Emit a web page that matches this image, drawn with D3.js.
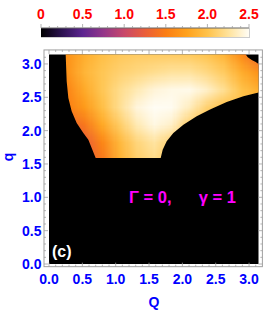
<!DOCTYPE html>
<html>
<head>
<meta charset="utf-8">
<script src="https://cdn.jsdelivr.net/npm/d3@7"></script>
<style>
    html, body { margin: 0; padding: 0; background: #fff; }
    #chart { width: 265px; height: 313px; }
    text { font-family: 'Liberation Sans', Arial, sans-serif; font-weight: bold; }
</style>
</head>
<body>
<div id="chart"></div>
<script>
//Colores fijos
const COLOR_TICKS = '#0000ff',
COLOR_BAR_TICKS = '#ff0000',
COLOR_NOTE = '#ff00ff',
COLOR_FRAME = '#a0a0a0';

//Malla de datos (Q columnas, q filas de arriba a abajo)
const Q_GRID = [0, 0.262, 0.524, 0.785, 1.047, 1.309, 1.571, 1.833, 2.094, 2.356, 2.618, 2.880, 3.142];
const q_GRID = [3.142, 2.880, 2.618, 2.356, 2.094, 1.833, 1.571];
const GRID_STEP = 0.262;

const row_3142 = [1.6, 1.65, 1.85, 1.98, 2.05, 2.08, 2.08, 2.08, 2.07, 2.02, 1.9, 1.6, 1.3];
const row_2880 = [1.55, 1.65, 1.9, 2.03, 2.12, 2.17, 2.22, 2.26, 2.26, 2.18, 2.07, 1.85, 1.65];
const row_2618 = [1.45, 1.55, 1.82, 2.03, 2.2, 2.32, 2.42, 2.46, 2.47, 2.38, 2.22, 2.0, 1.85];
const row_2356 = [1.4, 1.5, 1.7, 1.97, 2.22, 2.43, 2.5, 2.49, 2.35, 2.12, 2.0, 2.0, 2.0];
const row_2094 = [1.2, 1.3, 1.45, 1.8, 2.08, 2.32, 2.45, 2.38, 2.1, 2.0, 2.0, 2.0, 2.0];
const row_1833 = [1.1, 1.15, 1.25, 1.55, 1.92, 2.15, 2.27, 2.12, 2.0, 2.0, 2.0, 2.0, 2.0];
const row_1571 = [1.1, 1.15, 1.25, 1.45, 1.87, 2.1, 2.2, 2.05, 2.0, 2.0, 2.0, 2.0, 2.0];
const ROWS = [row_3142, row_2880, row_2618, row_2356, row_2094, row_1833, row_1571];

//Contorno de la zona no nula [Q, q]
const BOUNDARY_LEFT = [[0.25, 3.1416], [0.265, 2.74], [0.29, 2.49], [0.34, 2.29], [0.415, 2.115], [0.515, 1.965], [0.59, 1.865], [0.64, 1.74], [0.68, 1.64], [0.70, 1.59]];
const BOUNDARY_RIGHT = [[1.675, 1.59], [1.705, 1.715], [1.765, 1.84], [1.865, 1.965], [2.015, 2.09], [2.215, 2.215], [2.415, 2.315], [2.665, 2.43], [2.915, 2.515], [3.1416, 2.57]];
const BOUNDARY_CORNER = [[3.1416, 3.0], [3.10, 3.03], [3.04, 3.06], [2.98, 3.10], [2.95, 3.1416]];

//Barra de color
const BAR_TICKS = [0, 0.5, 1.0, 1.5, 2.0, 2.5];
const BAR_LABELS = ['0', '0.5', '1.0', '1.5', '2.0', '2.5'];
const BAR_STOPS = [0, 0.25, 0.5, 0.75, 1.0, 1.25, 1.5, 1.75, 2.0, 2.25, 2.5];
const BAR_COLORS = ['#000000', '#2c1250', '#5c2590', '#933689', '#c8486a', '#ea5e3a', '#fb7e14', '#ffa11c', '#ffc24a', '#ffe29a', '#fffdf5'];

const AXIS_TICKS = [0.0, 0.5, 1.0, 1.5, 2.0, 2.5, 3.0];
const AXIS_LABELS = ['0.0', '0.5', '1.0', '1.5', '2.0', '2.5', '3.0'];

function initChart() {
    let width = 265, height = 313;

    let svg = d3.select('#chart')
        .append('svg')
            .attr('width', width)
            .attr('height', height);

    //Escalas
    let x = d3.scaleLinear().domain([0, Math.PI]).range([49, 258.5]);
    let y = d3.scaleLinear().domain([0, Math.PI]).range([264, 54.5]);
    let color = d3.scaleLinear().domain(BAR_STOPS).range(BAR_COLORS).clamp(true);

    //Fondo negro (valor 0)
    svg.append('rect')
        .attr('x', x(0)).attr('y', y(Math.PI))
        .attr('width', x(Math.PI) - x(0))
        .attr('height', y(0) - y(Math.PI))
        .attr('fill', '#000');

    //Mapa de calor: malla pintada en canvas y escalada
    let canvas = document.createElement('canvas');
    canvas.width = Q_GRID.length;
    canvas.height = q_GRID.length;
    let ctx = canvas.getContext('2d');
    ROWS.forEach(function(row, j) {
        row.forEach(function(v, i) {
            ctx.fillStyle = color(v);
            ctx.fillRect(i, j, 1, 1);
        });
    });

    let outline = BOUNDARY_LEFT.concat(BOUNDARY_RIGHT, BOUNDARY_CORNER);
    svg.append('clipPath')
        .attr('id', 'region')
        .append('path')
        .attr('d', d3.line().x(d => x(d[0])).y(d => y(d[1]))(outline) + 'Z');

    svg.append('image')
        .attr('href', canvas.toDataURL())
        .attr('x', x(Q_GRID[0] - GRID_STEP / 2))
        .attr('y', y(q_GRID[0] + GRID_STEP / 2))
        .attr('width', x(Q_GRID[Q_GRID.length - 1] + GRID_STEP / 2) - x(Q_GRID[0] - GRID_STEP / 2))
        .attr('height', y(q_GRID[q_GRID.length - 1] - GRID_STEP / 2) - y(q_GRID[0] + GRID_STEP / 2))
        .attr('preserveAspectRatio', 'none')
        .attr('clip-path', 'url(#region)');

    //Marco con marcas hacia dentro
    let fx0 = x(-0.075), fx1 = x(3.2), fy0 = y(3.21), fy1 = y(-0.04);
    svg.append('rect')
        .attr('x', fx0).attr('y', fy0)
        .attr('width', fx1 - fx0).attr('height', fy1 - fy0)
        .attr('fill', 'none')
        .attr('stroke', COLOR_FRAME)
        .attr('stroke-width', 1);

    let minor = d3.range(0, 32).map(d => d / 10);
    let ticks = svg.append('g').attr('stroke', COLOR_FRAME).attr('stroke-width', 0.8);
    minor.forEach(function(t) {
        let len = Math.abs(t * 2 - Math.round(t * 2)) < 1e-6 ? 4 : 2;
        ticks.append('line').attr('x1', x(t)).attr('x2', x(t)).attr('y1', fy1).attr('y2', fy1 - len);
        ticks.append('line').attr('x1', x(t)).attr('x2', x(t)).attr('y1', fy0).attr('y2', fy0 + len);
        ticks.append('line').attr('y1', y(t)).attr('y2', y(t)).attr('x1', fx0).attr('x2', fx0 + len);
        ticks.append('line').attr('y1', y(t)).attr('y2', y(t)).attr('x1', fx1).attr('x2', fx1 - len);
    });

    //Etiquetas de ejes
    svg.append('g').selectAll('text')
        .data(AXIS_TICKS)
        .enter().append('text')
        .attr('x', d => x(d)).attr('y', 284)
        .attr('text-anchor', 'middle')
        .attr('font-size', 14)
        .attr('fill', COLOR_TICKS)
        .text((d, i) => AXIS_LABELS[i]);

    svg.append('g').selectAll('text')
        .data(AXIS_TICKS)
        .enter().append('text')
        .attr('x', 41.5).attr('y', d => y(d) + 5)
        .attr('text-anchor', 'end')
        .attr('font-size', 14)
        .attr('fill', COLOR_TICKS)
        .text((d, i) => AXIS_LABELS[i]);

    svg.append('text')
        .attr('x', 154).attr('y', 307)
        .attr('text-anchor', 'middle')
        .attr('font-size', 14)
        .attr('fill', COLOR_TICKS)
        .text('Q');

    svg.append('text')
        .attr('transform', 'translate(13,157) rotate(-90)')
        .attr('text-anchor', 'middle')
        .attr('font-size', 14)
        .attr('fill', COLOR_TICKS)
        .text('q');

    //Anotaciones
    svg.append('text')
        .attr('x', 52).attr('y', 257)
        .attr('font-size', 16)
        .attr('fill', '#fff')
        .text('(c)');

    svg.append('text')
        .attr('x', 129).attr('y', 203)
        .attr('font-size', 16.5)
        .attr('fill', COLOR_NOTE)
        .text('Γ = 0,');

    svg.append('text')
        .attr('x', 236).attr('y', 203)
        .attr('text-anchor', 'end')
        .attr('font-size', 16.5)
        .attr('fill', COLOR_NOTE)
        .text('γ = 1');

    //Barra de color
    let c = d3.scaleLinear().domain([0, 2.5]).range([41, 249]);
    let grad = svg.append('defs').append('linearGradient').attr('id', 'bar');
    BAR_STOPS.forEach(function(s, i) {
        grad.append('stop')
            .attr('offset', (s / 2.5 * 100) + '%')
            .attr('stop-color', BAR_COLORS[i]);
    });
    svg.append('rect')
        .attr('x', c(0)).attr('y', 28)
        .attr('width', c(2.5) - c(0)).attr('height', 9)
        .attr('fill', 'url(#bar)');
    svg.append('line')
        .attr('x1', c(0)).attr('x2', c(2.5)).attr('y1', 28).attr('y2', 28)
        .attr('stroke', '#666').attr('stroke-width', 1);
    svg.append('line')
        .attr('x1', c(0)).attr('x2', c(2.5) + 1).attr('y1', 37.5).attr('y2', 37.5)
        .attr('stroke', '#ccc').attr('stroke-width', 1);
    svg.append('line')
        .attr('x1', c(2.5) + 0.5).attr('x2', c(2.5) + 0.5).attr('y1', 28).attr('y2', 38)
        .attr('stroke', '#ccc').attr('stroke-width', 1);

    let barMinor = d3.range(0, 26).map(d => d / 10);
    svg.append('g').selectAll('line')
        .data(barMinor)
        .enter().append('line')
        .attr('x1', d => c(d)).attr('x2', d => c(d))
        .attr('y1', 28).attr('y2', d => Math.abs(d * 2 - Math.round(d * 2)) < 1e-6 ? 24 : 26)
        .attr('stroke', COLOR_FRAME).attr('stroke-width', 0.8);

    svg.append('g').selectAll('text')
        .data(BAR_TICKS)
        .enter().append('text')
        .attr('x', d => c(d)).attr('y', 19)
        .attr('text-anchor', 'middle')
        .attr('font-size', 14)
        .attr('fill', COLOR_BAR_TICKS)
        .text((d, i) => BAR_LABELS[i]);
}

initChart();
</script>
</body>
</html>
